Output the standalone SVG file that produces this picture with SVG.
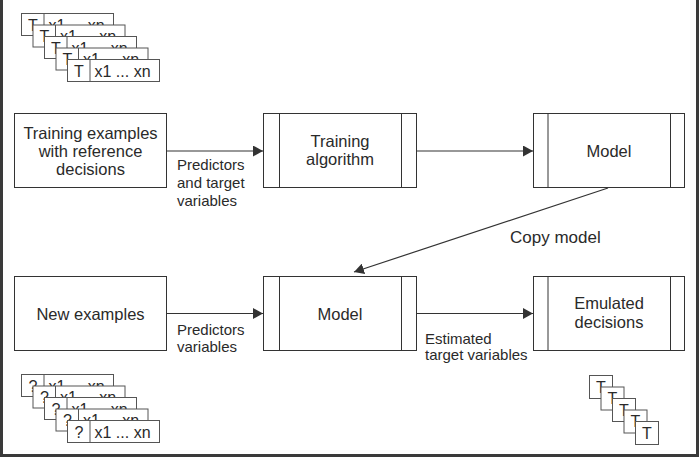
<svg xmlns="http://www.w3.org/2000/svg" width="700" height="458" viewBox="0 0 700 458">
<style>
.box{fill:#fff;stroke:#333;stroke-width:1}
.bar{stroke:#333;stroke-width:1;fill:none}
.t{font-family:"Liberation Sans",Arial,sans-serif;font-size:16.5px;fill:#2a2a2a;text-anchor:middle}
.l{font-family:"Liberation Sans",Arial,sans-serif;font-size:15px;fill:#2a2a2a}
.c{font-family:"Liberation Sans",Arial,sans-serif;font-size:16px;fill:#2a2a2a}
.cm{font-family:"Liberation Sans",Arial,sans-serif;font-size:17px;fill:#2a2a2a}
.card{fill:#fff;stroke:#555;stroke-width:1}
.conn{stroke:#333;stroke-width:1.2;fill:none;marker-end:url(#ah)}
</style>
<defs>
<marker id="ah" markerUnits="userSpaceOnUse" markerWidth="11" markerHeight="11" refX="10" refY="5.5" orient="auto">
<path d="M0,0 L10,5.5 L0,11 z" fill="#333"/>
</marker>
<g id="card">
<rect class="card" x="0" y="0" width="92" height="22"/>
<line class="card" x1="22.5" y1="0" x2="22.5" y2="22"/>
<text class="c" x="11.5" y="17" text-anchor="middle">T</text>
<text class="c" x="27" y="17">x1 ... xn</text>
</g>
<g id="qcard">
<rect class="card" x="0" y="0" width="92" height="22"/>
<line class="card" x1="22.5" y1="0" x2="22.5" y2="22"/>
<text class="c" x="11.5" y="17" text-anchor="middle">?</text>
<text class="c" x="27" y="17">x1 ... xn</text>
</g>
<g id="tsq">
<rect class="card" x="0" y="0" width="23" height="23"/>
<text class="c" x="11.5" y="17" text-anchor="middle">T</text>
</g>
</defs>
<rect x="0" y="0" width="700" height="458" fill="#fff"/>
<path d="M1.5,0 V455.5 H697.5 V0" fill="none" stroke="#3a3a3a" stroke-width="3"/>

<g id="training-stack">
<use href="#card" x="21.5" y="13.5"/>
<use href="#card" x="33" y="25"/>
<use href="#card" x="44.5" y="36.5"/>
<use href="#card" x="56" y="48"/>
<use href="#card" x="67.5" y="59.5"/>
</g>
<g id="new-stack">
<use href="#qcard" x="21.5" y="374.5"/>
<use href="#qcard" x="33" y="386"/>
<use href="#qcard" x="44.5" y="397.5"/>
<use href="#qcard" x="56" y="409"/>
<use href="#qcard" x="67.5" y="420.5"/>
</g>
<g id="decision-stack">
<use href="#tsq" x="589.5" y="375.5"/>
<use href="#tsq" x="601" y="387"/>
<use href="#tsq" x="612.5" y="398.5"/>
<use href="#tsq" x="624" y="410"/>
<use href="#tsq" x="635.5" y="421.5"/>
</g>

<g id="connectors">
<line class="conn" x1="167" y1="151" x2="263" y2="151"/>
<line class="conn" x1="417" y1="151" x2="533" y2="151"/>
<line class="conn" x1="608" y1="188" x2="354" y2="272"/>
<line class="conn" x1="167" y1="313.5" x2="263" y2="313.5"/>
<line class="conn" x1="417" y1="313.5" x2="533" y2="313.5"/>
<text class="l" x="177" y="170">Predictors</text>
<text class="l" x="177" y="188">and target</text>
<text class="l" x="177" y="206">variables</text>
<text class="cm" x="510" y="243">Copy model</text>
<text class="l" x="177" y="335">Predictors</text>
<text class="l" x="177" y="352">variables</text>
<text class="l" x="425" y="344">Estimated</text>
<text class="l" x="425" y="360">target variables</text>
</g>

<g id="training-examples">
<rect class="box" x="14.5" y="113.5" width="152" height="74"/>
<text class="t" x="90.5" y="139">Training examples</text>
<text class="t" x="90.5" y="157">with reference</text>
<text class="t" x="90.5" y="175">decisions</text>
</g>
<g id="training-algorithm">
<rect class="box" x="263.5" y="113.5" width="153" height="74"/>
<line class="bar" x1="279.5" y1="113.5" x2="279.5" y2="187.5"/>
<line class="bar" x1="401.5" y1="113.5" x2="401.5" y2="187.5"/>
<text class="t" x="340" y="147">Training</text>
<text class="t" x="340" y="165">algorithm</text>
</g>
<g id="model-top">
<rect class="box" x="533.5" y="113.5" width="151" height="74"/>
<line class="bar" x1="548" y1="113.5" x2="548" y2="187.5"/>
<line class="bar" x1="670.5" y1="113.5" x2="670.5" y2="187.5"/>
<text class="t" x="609" y="157">Model</text>
</g>
<g id="new-examples">
<rect class="box" x="14.5" y="276.5" width="152" height="74"/>
<text class="t" x="90.5" y="320">New examples</text>
</g>
<g id="model-bottom">
<rect class="box" x="263.5" y="276.5" width="153" height="74"/>
<line class="bar" x1="279.5" y1="276.5" x2="279.5" y2="350.5"/>
<line class="bar" x1="401.5" y1="276.5" x2="401.5" y2="350.5"/>
<text class="t" x="340" y="320">Model</text>
</g>
<g id="emulated-decisions">
<rect class="box" x="533.5" y="276.5" width="151" height="74"/>
<line class="bar" x1="548" y1="276.5" x2="548" y2="350.5"/>
<line class="bar" x1="670.5" y1="276.5" x2="670.5" y2="350.5"/>
<text class="t" x="609" y="309">Emulated</text>
<text class="t" x="609" y="328">decisions</text>
</g>
</svg>
